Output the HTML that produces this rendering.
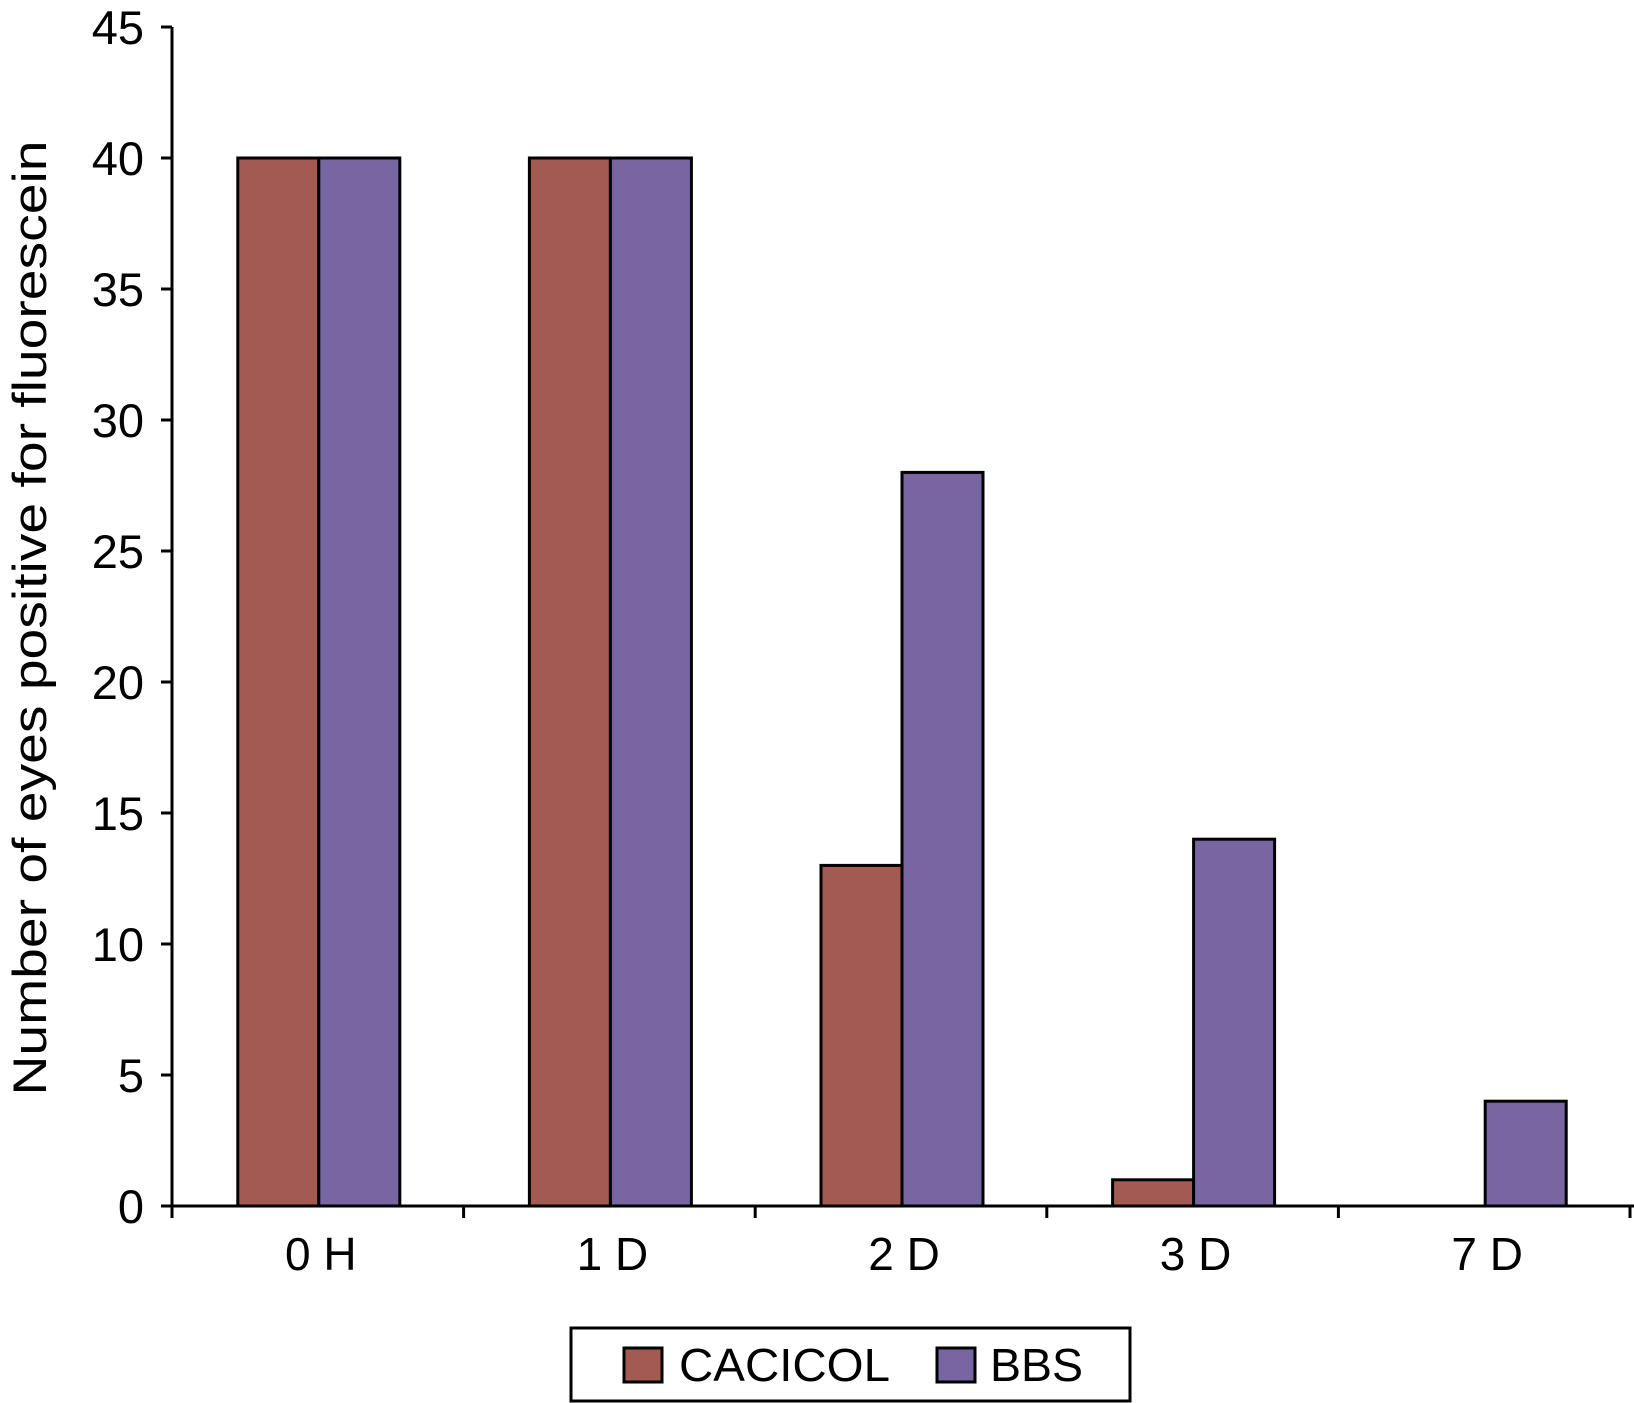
<!DOCTYPE html>
<html><head><meta charset="utf-8"><style>body{margin:0;background:#fff}svg{display:block}</style></head>
<body>
<svg id="chart" width="1634" height="1403" xmlns="http://www.w3.org/2000/svg" font-family="Liberation Sans, sans-serif"></svg>
<script>
const categories = ["0 H","1 D","2 D","3 D","7 D"];
const cacicol = [40,40,13,1,0];
const bbs = [40,40,28,14,4];
const yTicks = [0,5,10,15,20,25,30,35,40,45];
const svg = document.getElementById('chart');
const NS = 'http://www.w3.org/2000/svg';
const x0 = 172, x1 = 1630, yBase = 1206, yTop = 27, yMax = 45;
const catW = (x1 - x0) / categories.length;
const barW = 81;
function y(v){ return yBase - (yBase - yTop) * v / yMax; }
function mk(tag, attrs){ const e = document.createElementNS(NS, tag); for (const k in attrs) e.setAttribute(k, attrs[k]); svg.appendChild(e); return e; }
categories.forEach((c, i) => {
  const cx = x0 + catW * (i + 0.5) + 1;
  if (cacicol[i] > 0) {
    const r = mk('rect', {x: cx - barW, y: y(cacicol[i]), width: barW, height: yBase - y(cacicol[i]), fill: '#a35a52', stroke: '#000', 'stroke-width': 3});
    
    
  }
  if (bbs[i] > 0) {
    const r = mk('rect', {x: cx, y: y(bbs[i]), width: barW, height: yBase - y(bbs[i]), fill: '#7866a3', stroke: '#000', 'stroke-width': 3});
    
    
  }
  const t = mk('text', {x: cx + 2, y: 1270, 'font-size': 46, 'text-anchor': 'middle'});
  t.textContent = c;
  
  
});
const ya = mk('line', {x1: x0, y1: yTop, x2: x0, y2: yBase, stroke: '#000', 'stroke-width': 3});


const xa = mk('line', {x1: x0 - 8, y1: yBase, x2: x1 + 4, y2: yBase, stroke: '#000', 'stroke-width': 3});


for (let i = 0; i <= categories.length; i++) {
  const tx = x0 + catW * i;
  const tk = mk('line', {x1: tx, y1: yBase, x2: tx, y2: yBase + 12, stroke: '#000', 'stroke-width': 3});
  
  
}
yTicks.forEach(v => {
  const tk = mk('line', {x1: x0 - 11, y1: y(v), x2: x0, y2: y(v), stroke: '#000', 'stroke-width': 3});
  
  
  const t = mk('text', {x: 144, y: y(v) + 17, 'font-size': 47, 'text-anchor': 'end'});
  t.textContent = v;
  
  
});
const yt = mk('text', {x: 0, y: 0, 'font-size': 47, 'text-anchor': 'middle', transform: 'translate(46,618) rotate(-90)', textLength: 955, lengthAdjust: 'spacingAndGlyphs'});
yt.textContent = 'Number of eyes positive for fluorescein';


const lb = mk('rect', {x: 571, y: 1328, width: 559, height: 73, fill: '#fff', stroke: '#000', 'stroke-width': 3});


const s1 = mk('rect', {x: 624, y: 1348, width: 38, height: 34, fill: '#a35a52', stroke: '#000', 'stroke-width': 3});


const l1 = mk('text', {x: 679, y: 1381, 'font-size': 46, textLength: 211, lengthAdjust: 'spacingAndGlyphs'});
l1.textContent = 'CACICOL';


const s2 = mk('rect', {x: 937, y: 1348, width: 38, height: 34, fill: '#7866a3', stroke: '#000', 'stroke-width': 3});


const l2 = mk('text', {x: 990, y: 1381, 'font-size': 46, textLength: 93, lengthAdjust: 'spacingAndGlyphs'});
l2.textContent = 'BBS';


</script>
</body></html>
